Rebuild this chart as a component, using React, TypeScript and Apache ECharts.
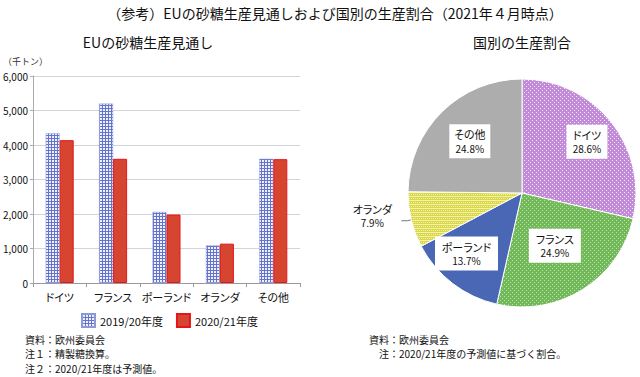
import React, { useEffect, useRef } from "react";
import * as echarts from "echarts";

const categories = ["ドイツ", "フランス", "ポーランド", "オランダ", "その他"];
const seriesNames = ["2019/20年度", "2020/21年度"];
const production2019 = [4340, 5200, 2060, 1090, 3600];
const production2020 = [4140, 3600, 1985, 1140, 3590];
const yMin = 0;
const yMax = 6000;
const yStep = 1000;

const shareNames = ["ドイツ", "フランス", "ポーランド", "オランダ", "その他"];
const shareValues = [28.6, 24.9, 13.7, 7.9, 24.8];

const mainTitle = "（参考）EUの砂糖生産見通しおよび国別の生産割合（2021年４月時点）";
const barTitle = "EUの砂糖生産見通し";
const pieTitle = "国別の生産割合";
const unitLabel = "（千トン）";
const leftNotes = ["資料：欧州委員会", "注１：精製糖換算。", "注２：2020/21年度は予測値。"];
const rightNotes = ["資料：欧州委員会", "　注：2020/21年度の予測値に基づく割合。"];

const FONT = '"Noto Sans CJK JP", "Noto Sans", sans-serif';

// label nudges (styling only)
const pieLabelShift: number[][] = [[18, -14], [1, 2], [-19, 13], [0, -5], [-10, -9]];

function makePattern(size: number, bg: string, fg: string, cells: number[][]) {
  const c = document.createElement("canvas");
  c.width = size;
  c.height = size;
  const ctx = c.getContext("2d")!;
  ctx.fillStyle = bg;
  ctx.fillRect(0, 0, size, size);
  ctx.fillStyle = fg;
  cells.forEach(([x, y, w, h]) => ctx.fillRect(x, y, w, h));
  return { image: c, repeat: "repeat" } as any;
}

export default function App() {
  const ref = useRef<HTMLDivElement>(null);
  useEffect(() => {
    if (!ref.current) return;
    const chart = echarts.init(ref.current, null, { renderer: "svg" });

    const gridBlue = makePattern(3, "#eef0fb", "#6474cc", [[0, 0, 3, 1], [0, 0, 1, 3]]);
    const purple = makePattern(4, "#c18bd8", "#f4e8f8", [[0, 0, 1, 1], [2, 2, 1, 1]]);
    const green = makePattern(4, "#72b95a", "#bde0ae", [[0, 0, 1, 1], [2, 2, 1, 1]]);
    const yellow = makePattern(4, "#d9d74a", "#f3f2a8", [[0, 0, 4, 1], [1, 2, 1, 1], [3, 2, 1, 1]]);
    const pieColors: any[] = [purple, green, "#4a67b6", yellow, "#adadad"];

    const texts: any[] = [
      { type: "text", x: 335, y: 13, style: { text: mainTitle, font: `14px ${FONT}`, fill: "#111", align: "center", verticalAlign: "middle" } },
      { type: "text", x: 148, y: 42, style: { text: barTitle, font: `14px ${FONT}`, fill: "#111", align: "center", verticalAlign: "middle" } },
      { type: "text", x: 522, y: 42, style: { text: pieTitle, font: `14px ${FONT}`, fill: "#111", align: "center", verticalAlign: "middle" } },
      { type: "text", x: 3, y: 61, style: { text: unitLabel, font: `9px ${FONT}`, fill: "#333", align: "left", verticalAlign: "middle" } },
    ];
    leftNotes.forEach((t, i) =>
      texts.push({ type: "text", x: 25, y: 339 + i * 14.5, style: { text: t, font: `10px ${FONT}`, fill: "#111", align: "left", verticalAlign: "middle" } })
    );
    rightNotes.forEach((t, i) =>
      texts.push({ type: "text", x: 369, y: 339 + i * 14.5, style: { text: t, font: `10px ${FONT}`, fill: "#111", align: "left", verticalAlign: "middle" } })
    );

    chart.setOption({
      animation: false,
      backgroundColor: "#fff",
      textStyle: { fontFamily: FONT },
      graphic: texts,
      legend: {
        data: seriesNames,
        left: 81,
        top: 313,
        padding: 0,
        itemWidth: 13,
        itemHeight: 13,
        itemGap: 13,
        icon: "rect",
        textStyle: { fontSize: 11, color: "#111", fontFamily: FONT },
      },
      grid: { left: 33, right: 340, top: 76, bottom: 94, containLabel: false },
      xAxis: {
        type: "category",
        data: categories,
        axisLine: { lineStyle: { color: "#999" } },
        axisTick: { show: true, length: 4, lineStyle: { color: "#999" } },
        axisLabel: { interval: 0, fontSize: 11, color: "#111", margin: 8, fontFamily: FONT },
      },
      yAxis: {
        type: "value",
        min: yMin,
        max: yMax,
        interval: yStep,
        axisLine: { show: true, lineStyle: { color: "#aaa" } },
        axisTick: { show: true, length: 3, lineStyle: { color: "#aaa" } },
        splitLine: { lineStyle: { color: "#d4d4d4" } },
        axisLabel: {
          fontSize: 10,
          color: "#111",
          margin: 5,
          fontFamily: FONT,
          formatter: (v: number) => v.toLocaleString("en-US"),
        },
      },
      series: [
        {
          name: seriesNames[0],
          type: "bar",
          data: production2019,
          barWidth: 14,
          barGap: "0%",
          itemStyle: { color: gridBlue, borderColor: "#8d98d8", borderWidth: 0.5 },
        },
        {
          name: seriesNames[1],
          type: "bar",
          data: production2020,
          barWidth: 14,
          barGap: "0%",
          itemStyle: { color: "#d5452f", borderColor: "#e4161c", borderWidth: 1 },
        },
        {
          name: "share",
          type: "pie",
          center: [522, 193],
          radius: 114,
          startAngle: 90,
          clockwise: true,
          legendHoverLink: false,
          itemStyle: { borderColor: "#fff", borderWidth: 1 },
          label: {
            position: "inside",
            backgroundColor: "#fff",
            padding: [3, 4],
            color: "#111",
            lineHeight: 14,
            formatter: (p: any) => `{n|${p.name}}\n{p|${p.value.toFixed(1)}%}`,
            rich: {
              n: { fontSize: 11, fontFamily: FONT, color: "#111", lineHeight: 14, align: "center" },
              p: { fontSize: 10, fontFamily: FONT, color: "#111", lineHeight: 14, align: "center" },
            },
          },
          labelLayout: (params: any) => {
            const s = pieLabelShift[params.dataIndex] || [0, 0];
            return { dx: s[0], dy: s[1] };
          },
          data: shareNames.map((n, i) => {
            const item: any = { name: n, value: shareValues[i], itemStyle: { color: pieColors[i] } };
            if (n === "オランダ") {
              item.label = {
                position: "outside",
                backgroundColor: "transparent",
                padding: 0,
                formatter: (p: any) => `{n|${p.name}}\n{q|${p.value.toFixed(1)}%}`,
                rich: {
                  n: { fontSize: 11, fontFamily: FONT, color: "#111", lineHeight: 14, width: 48, align: "center" },
                  q: { fontSize: 10, fontFamily: FONT, color: "#111", lineHeight: 14, width: 48, align: "center" },
                },
              };
              item.labelLine = { show: true, length: 4, length2: 6, lineStyle: { color: "#777", width: 1 } };
            }
            return item;
          }),
        },
      ],
    });
    return () => chart.dispose();
  }, []);

  return (
    <>
      <style>{"svg text{font-feature-settings:'palt' 1;}"}</style>
      <div
        ref={ref}
        style={{ position: "fixed", left: 0, top: 0, width: 640, height: 377, background: "#fff" }}
      />
    </>
  );
}
